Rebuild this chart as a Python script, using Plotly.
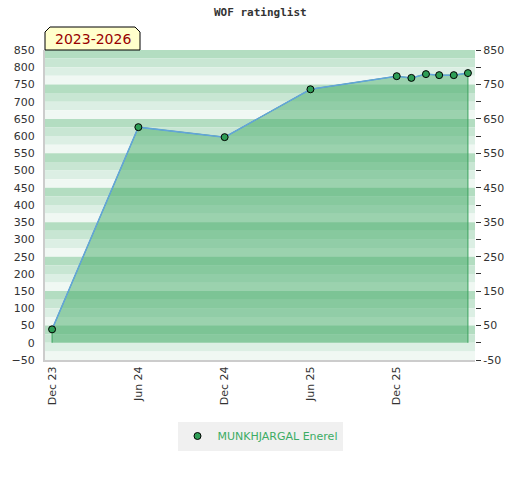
import plotly.graph_objects as go

# ---- data ----
dates = ["2023-12-01", "2024-06-01", "2024-12-01", "2025-06-01", "2025-12-01",
         "2026-01-01", "2026-02-01", "2026-03-01", "2026-04-01", "2026-05-01"]
ratings = [39, 626, 597, 736, 774, 769, 780, 777, 777, 783]
player = "MUNKHJARGAL Enerel"
period_label = "2023-2026"
chart_title = "WOF ratinglist"
left_ticks = list(range(-50, 851, 50))
right_ticks = list(range(-50, 851, 50))
right_labels = [str(v) if (v - 50) % 100 == 0 else "" for v in right_ticks]

band_colors = ["#b3ddc1", "#c8e6d3", "#dcefe4", "#f0f8f3"]

fig = go.Figure()

# filled area polygon (derived from data)
poly_x = [dates[0]] + dates + [dates[-1]]
poly_y = [0] + ratings + [0]
fig.add_trace(go.Scatter(
    x=poly_x, y=poly_y, mode="lines", fill="toself",
    fillcolor="rgba(70,172,106,0.5)",
    line=dict(color="#3ca05f", width=1),
    hoverinfo="skip", showlegend=False))

fig.add_trace(go.Scatter(
    x=dates, y=ratings, mode="lines", line=dict(color="#63a4db", width=1.5),
    hoverinfo="skip", showlegend=False))

fig.add_trace(go.Scatter(
    x=dates, y=ratings, mode="markers", name=player,
    marker=dict(color="#2e9e56", size=7, line=dict(color="black", width=1))))

# right axis dummy
fig.add_trace(go.Scatter(x=[dates[0]], y=[None], yaxis="y2", showlegend=False,
                         hoverinfo="skip"))

PL, PR, PT, PB = 45, 475, 50, 360
PW, PH = PR - PL, PB - PT

shapes = []
i = 0
y = 850
while y > -50:
    shapes.append(dict(type="rect", xref="paper", yref="y", x0=0, x1=1,
                       y0=y - 25, y1=y, fillcolor=band_colors[i % 4],
                       line=dict(width=0), layer="below"))
    y -= 25
    i += 1

# label box with cut corners
bx0, bx1 = 0.0, (140 - PL) / PW
by0, by1 = 1.0, (PB - 27) / PH
cx = 5 / PW
cy = 5 / PH
shapes.append(dict(type="path", xref="paper", yref="paper",
                   path=f"M {bx0},{by0} L {bx0},{by1 - cy} L {bx0 + cx},{by1} "
                        f"L {bx1 - cx},{by1} L {bx1},{by1 - cy} L {bx1},{by0} Z",
                   fillcolor="#ffffcc", line=dict(color="black", width=1)))

fig.update_layout(
    width=520, height=480,
    margin=dict(l=PL, r=520 - PR, t=PT, b=480 - PB, autoexpand=False),
    paper_bgcolor="white", plot_bgcolor="white",
    shapes=shapes,
    font=dict(family="DejaVu Sans", size=11, color="#333"),
    xaxis=dict(type="date", range=["2023-11-16", "2026-05-16"],
               tick0="2023-12-01", dtick="M6", tickformat="%b %y",
               tickangle=-90, showgrid=False, zeroline=False,
               showline=True, linecolor="#cccccc", linewidth=2,
               ticks="", ticklen=0, automargin=False,
               tickfont=dict(family="DejaVu Sans", size=11, color="#333")),
    yaxis=dict(range=[-50, 850], tickvals=left_ticks, showgrid=False,
               zeroline=False, showline=True, linecolor="#cccccc", linewidth=2,
               ticks="", automargin=False, ticklabelstandoff=6,
               tickfont=dict(family="DejaVu Sans", size=11, color="#333")),
    yaxis2=dict(range=[-50, 850], overlaying="y", side="right",
                tickvals=right_ticks, ticktext=right_labels, showgrid=False,
                zeroline=False, showline=False, ticks="outside", ticklen=5,
                tickcolor="#333", automargin=False,
                tickfont=dict(family="DejaVu Sans", size=11, color="#333")),
    legend=dict(orientation="h", x=0.5, xanchor="center",
                y=(PB - 436) / PH, yanchor="middle", bgcolor="#f0f0f0",
                itemwidth=30,
                font=dict(family="DejaVu Sans", size=11, color="#3cac64")),
    annotations=[
        dict(text=period_label, xref="paper", yref="paper",
             x=(bx0 + bx1) / 2, y=(by0 + by1) / 2, showarrow=False,
             xanchor="center", yanchor="middle",
             font=dict(family="DejaVu Sans", size=14, color="#990000")),
        dict(text="<b>" + chart_title + "</b>", xref="paper", yref="paper",
             x=(260 - PL) / PW, y=(PB - 13) / PH, showarrow=False,
             xanchor="center", yanchor="middle",
             font=dict(family="DejaVu Sans Mono", size=11, color="#333")),
    ],
)

fig.write_html("out.html", config={"displayModeBar": False},
               post_script="document.body.style.margin='0px';")
